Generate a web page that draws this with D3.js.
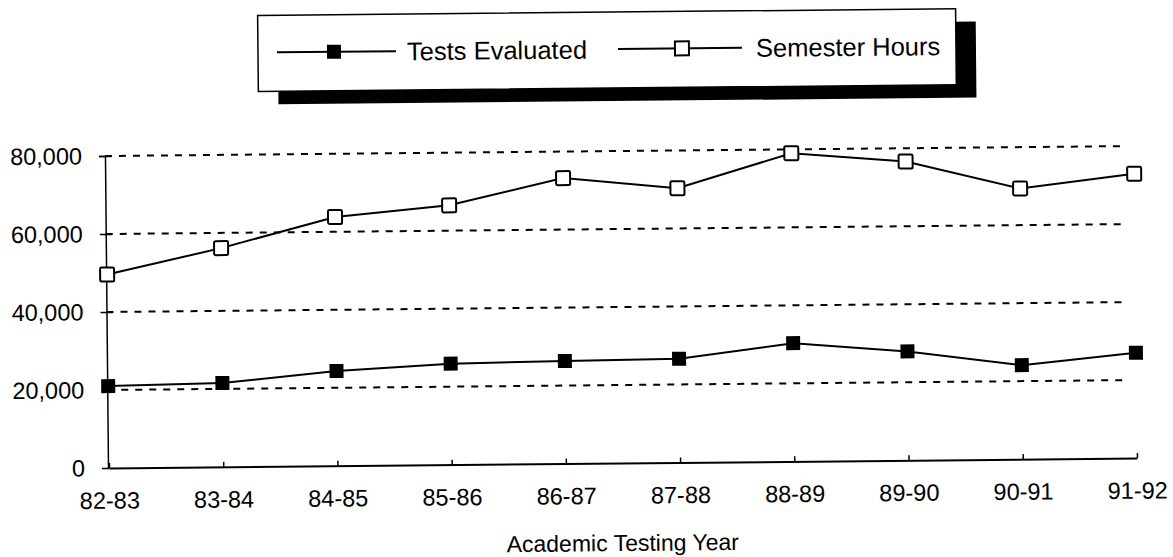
<!DOCTYPE html>
<html lang="en">
<head>
    <meta charset="UTF-8">
    <title>Tests Evaluated and Semester Hours</title>
    <script src="https://cdnjs.cloudflare.com/ajax/libs/d3/7.8.5/d3.min.js"></script>
    <style>
        body {
            margin: 0;
            padding: 0;
            background-color: #ffffff;
        }
        text {
            font-family: "Liberation Sans", Arial, sans-serif;
            fill: #000;
        }
    </style>
</head>
<body>
    <div id="chart"></div>

    <script>
        // data
        const years = ["82-83", "83-84", "84-85", "85-86", "86-87", "87-88", "88-89", "89-90", "90-91", "91-92"];
        const testsEvaluated = [21000, 21500, 24300, 25900, 26300, 26600, 30300, 27900, 24100, 27000];
        const semesterHours = [49600, 56100, 63800, 66500, 73200, 70300, 79000, 76600, 69400, 72900];
        const yTicks = [0, 20000, 40000, 60000, 80000];

        const width = 1173;
        const height = 557;

        const svg = d3.select("#chart")
            .append("svg")
            .attr("width", width)
            .attr("height", height);

        // the scanned page sits slightly tilted
        const root = svg.append("g")
            .attr("transform", "rotate(-0.556, 108, 468)");

        const x = d3.scalePoint()
            .domain(years)
            .range([109, 1137]);

        const y = d3.scaleLinear()
            .domain([0, 80000])
            .range([468, 156]);

        // dashed gridlines
        root.append("g")
            .selectAll("line")
            .data(yTicks.filter(d => d > 0))
            .enter().append("line")
            .attr("x1", 108)
            .attr("x2", 1130)
            .attr("y1", d => y(d))
            .attr("y2", d => y(d))
            .attr("stroke", "#000")
            .attr("stroke-width", 2)
            .attr("stroke-dasharray", "7,7");

        // y axis
        const yAxis = root.append("g")
            .attr("transform", "translate(108,0)")
            .call(d3.axisLeft(y)
                .tickValues(yTicks)
                .tickSize(6)
                .tickPadding(17)
                .tickFormat(d3.format(",")));
        yAxis.select(".domain").attr("stroke-width", 1.5);
        yAxis.selectAll(".tick line").attr("x2", 6).attr("x1", -6).attr("stroke-width", 1.5);
        yAxis.selectAll(".tick text")
            .style("font-size", "23.5px");
        yAxis.select(".tick:first-of-type line").remove();

        // x axis
        const xAxis = root.append("g")
            .attr("transform", `translate(0,${y(0)})`)
            .call(d3.axisBottom(x)
                .tickSize(-5)
                .tickPadding(24)
                .tickSizeOuter(0));
        xAxis.select(".domain").attr("stroke-width", 2);
        xAxis.selectAll(".tick line").attr("stroke-width", 1.5);
        xAxis.selectAll(".tick text")
            .style("font-size", "23.5px");

        root.append("text")
            .attr("x", 622)
            .attr("y", 556)
            .attr("text-anchor", "middle")
            .style("font-size", "23px")
            .text("Academic Testing Year");

        // lines
        const line = d3.line()
            .x((d, i) => x(years[i]))
            .y(d => y(d));

        root.append("path")
            .datum(semesterHours)
            .attr("fill", "none")
            .attr("stroke", "#000")
            .attr("stroke-width", 2)
            .attr("d", line);

        root.append("path")
            .datum(testsEvaluated)
            .attr("fill", "none")
            .attr("stroke", "#000")
            .attr("stroke-width", 2)
            .attr("d", line);

        const size = 14;

        root.append("g")
            .selectAll("rect")
            .data(semesterHours)
            .enter().append("rect")
            .attr("x", (d, i) => x(years[i]) - size / 2)
            .attr("y", d => y(d) - size / 2)
            .attr("width", size)
            .attr("height", size)
            .attr("rx", 1.5)
            .attr("fill", "#fff")
            .attr("stroke", "#000")
            .attr("stroke-width", 2);

        root.append("g")
            .selectAll("rect")
            .data(testsEvaluated)
            .enter().append("rect")
            .attr("x", (d, i) => x(years[i]) - size / 2)
            .attr("y", d => y(d) - size / 2)
            .attr("width", size)
            .attr("height", size)
            .attr("fill", "#000");

        // legend box with heavy shadow
        const legend = root.append("g");
        const lx = 262, ly = 17, lw = 698, lh = 76;

        legend.append("rect")
            .attr("x", lx + 20)
            .attr("y", ly + 13)
            .attr("width", lw)
            .attr("height", lh)
            .attr("fill", "#000");

        legend.append("rect")
            .attr("x", lx)
            .attr("y", ly)
            .attr("width", lw)
            .attr("height", lh)
            .attr("fill", "#fff")
            .attr("stroke", "#000")
            .attr("stroke-width", 1.5);

        const legendItems = [
            {name: "Tests Evaluated", filled: true, x0: 281, x1: 400, text: 411},
            {name: "Semester Hours", filled: false, x0: 622, x1: 746, text: 760}
        ];
        const my = ly + lh / 2 - 1;

        legendItems.forEach(item => {
            legend.append("line")
                .attr("x1", item.x0)
                .attr("x2", item.x1)
                .attr("y1", my)
                .attr("y2", my)
                .attr("stroke", "#000")
                .attr("stroke-width", 2);
            const cx = item.filled ? item.x0 + 57 : item.x0 + 64;
            legend.append("rect")
                .attr("x", cx - size / 2)
                .attr("y", my - size / 2)
                .attr("width", size)
                .attr("height", size)
                .attr("fill", item.filled ? "#000" : "#fff")
                .attr("stroke", "#000")
                .attr("stroke-width", item.filled ? 0 : 2);
            legend.append("text")
                .attr("x", item.text)
                .attr("y", my)
                .attr("dy", "0.36em")
                .style("font-size", "25.5px")
                .text(item.name);
        });
    </script>
</body>
</html>
